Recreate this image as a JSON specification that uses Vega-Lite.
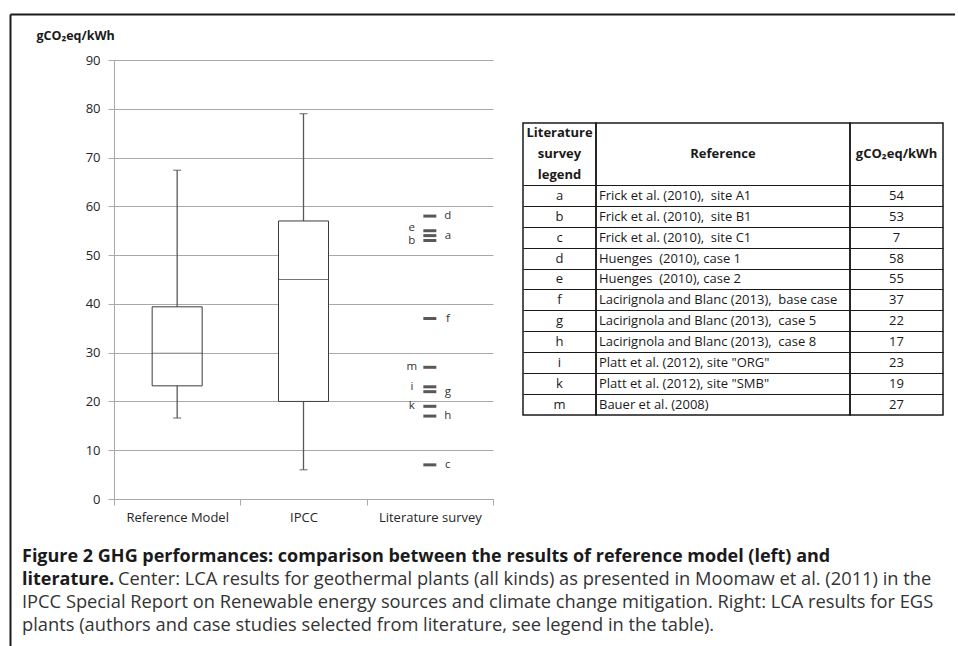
{
  "$schema": "https://vega.github.io/schema/vega-lite/v6.json",
  "padding": {"left": 10, "top": 8, "right": 0, "bottom": 0},
  "background": "white",
  "config": {
    "view": {"stroke": null},
    "font": "Open Sans",
    "text": {"font": "Open Sans"},
    "axis": {"labelFont": "Open Sans", "titleFont": "Open Sans"}
  },
  "datasets": {
    "blank": [{}],
    "boxes": [
      {"group": "Reference Model", "min": 16.6, "q1": 23.2, "median": 29.9, "q3": 39.4, "max": 67.4},
      {"group": "IPCC", "min": 6, "q1": 20, "median": 45, "q3": 57, "max": 79}
    ],
    "lit": [
      {"letter": "a", "reference": "Frick et al. (2010), \u00a0site A1", "value": 54},
      {"letter": "b", "reference": "Frick et al. (2010), \u00a0site B1", "value": 53},
      {"letter": "c", "reference": "Frick et al. (2010), \u00a0site C1", "value": 7},
      {"letter": "d", "reference": "Huenges \u00a0(2010), case 1", "value": 58},
      {"letter": "e", "reference": "Huenges \u00a0(2010), case 2", "value": 55},
      {"letter": "f", "reference": "Lacirignola and Blanc (2013), \u00a0base case", "value": 37},
      {"letter": "g", "reference": "Lacirignola and Blanc (2013), \u00a0case 5", "value": 22},
      {"letter": "h", "reference": "Lacirignola and Blanc (2013), \u00a0case 8", "value": 17},
      {"letter": "i", "reference": "Platt et al. (2012), site \"ORG\"", "value": 23},
      {"letter": "k", "reference": "Platt et al. (2012), site \"SMB\"", "value": 19},
      {"letter": "m", "reference": "Bauer et al. (2008)", "value": 27}
    ],
    "caption": [
      {"line": 1, "role": "title", "text": "Figure 2 GHG performances: comparison between the results of reference model (left) and"},
      {"line": 2, "role": "title", "text": "literature."},
      {"line": 2, "role": "body", "text": "Center: LCA results for geothermal plants (all kinds) as presented in Moomaw et al. (2011) in the"},
      {"line": 3, "role": "body", "text": "IPCC Special Report on Renewable energy sources and climate change mitigation. Right: LCA results for EGS"},
      {"line": 4, "role": "body", "text": "plants (authors and case studies selected from literature, see legend in the table)."}
    ]
  },
  "columns": 2,
  "bounds": "flush",
  "spacing": {"row": 45, "column": 103},
  "concat": [
    {
      "width": 1,
      "height": 1,
      "data": {"name": "blank"},
      "mark": {"type": "text"},
      "encoding": {
        "x": {"datum": 0, "type": "quantitative", "scale": {"domain": [0, 1], "range": [0, 945]}, "axis": {"orient": "top", "domain": true, "domainColor": "#1a1a1a", "domainWidth": 2, "ticks": false, "labels": false, "grid": false, "title": null}},
        "y": {"datum": 0, "type": "quantitative", "scale": {"domain": [0, 1], "range": [0, 632]}, "axis": {"orient": "left", "domain": true, "domainColor": "#1a1a1a", "domainWidth": 2, "ticks": false, "labels": false, "grid": false, "title": null}},
        "text": {"value": ""}
      }
    },
    {
      "width": 1,
      "height": 1,
      "data": {"name": "blank"},
      "mark": {"type": "text"},
      "encoding": {"text": {"value": ""}}
    },
    {
      "width": 1,
      "height": 1,
      "data": {"name": "blank"},
      "mark": {"type": "text"},
      "encoding": {"text": {"value": ""}}
    },
    {
      "spacing": 21,
      "vconcat": [
        {
          "spacing": 28,
          "hconcat": [
            {
              "width": 379,
              "height": 439,
              "layer": [
                {
                  "data": {"name": "boxes"},
                  "mark": {"type": "rule", "color": "#595959", "strokeWidth": 1.3},
                  "encoding": {
                    "x": {
                      "field": "group",
                      "type": "nominal",
                      "scale": {"domain": ["Reference Model", "IPCC", "Literature survey"], "paddingInner": 0, "paddingOuter": 0},
                      "axis": {
                        "title": null,
                        "tickBand": "extent",
                        "grid": false,
                        "labelAngle": 0,
                        "domainColor": "#a9a9a9",
                        "tickColor": "#a9a9a9",
                        "tickSize": 6,
                        "labelFontSize": 13,
                        "labelColor": "#262626",
                        "labelPadding": 6
                      }
                    },
                    "y": {
                      "field": "min",
                      "type": "quantitative",
                      "scale": {"domain": [0, 90], "nice": false},
                      "axis": {
                        "values": [0, 10, 20, 30, 40, 50, 60, 70, 80, 90],
                        "grid": true,
                        "gridColor": "#a9a9a9",
                        "gridWidth": 1,
                        "domainColor": "#a9a9a9",
                        "tickColor": "#a9a9a9",
                        "tickSize": 6,
                        "labelFontSize": 13,
                        "labelColor": "#262626",
                        "labelPadding": 8,
                        "title": "gCO₂eq/kWh",
                        "titleAngle": 0,
                        "titleAlign": "left",
                        "titleBaseline": "middle",
                        "titleX": -78,
                        "titleY": -25,
                        "titleFontSize": 12.5,
                        "titleFontWeight": "bold",
                        "titleColor": "#1a1a1a"
                      }
                    },
                    "y2": {"field": "max"}
                  }
                },
                {
                  "data": {"name": "boxes"},
                  "mark": {"type": "bar", "width": 50, "fill": "white", "stroke": "#3c3c3c", "strokeWidth": 1},
                  "encoding": {
                    "x": {"field": "group", "type": "nominal"},
                    "y": {"field": "q1", "type": "quantitative"},
                    "y2": {"field": "q3"}
                  }
                },
                {
                  "data": {"name": "boxes"},
                  "mark": {"type": "tick", "size": 50, "thickness": 1, "color": "#3c3c3c"},
                  "encoding": {
                    "x": {"field": "group", "type": "nominal"},
                    "y": {"field": "median", "type": "quantitative"}
                  }
                },
                {
                  "data": {"name": "boxes"},
                  "mark": {"type": "tick", "size": 8, "thickness": 1.3, "color": "#595959"},
                  "encoding": {
                    "x": {"field": "group", "type": "nominal"},
                    "y": {"field": "min", "type": "quantitative"}
                  }
                },
                {
                  "data": {"name": "boxes"},
                  "mark": {"type": "tick", "size": 8, "thickness": 1.3, "color": "#595959"},
                  "encoding": {
                    "x": {"field": "group", "type": "nominal"},
                    "y": {"field": "max", "type": "quantitative"}
                  }
                },
                {
                  "data": {"name": "lit"},
                  "mark": {"type": "tick", "size": 13, "thickness": 3, "color": "#111111"},
                  "encoding": {
                    "x": {"datum": "Literature survey", "type": "nominal"},
                    "y": {"field": "value", "type": "quantitative"}
                  }
                },
                {
                  "data": {"name": "lit"},
                  "transform": [{"filter": {"field": "letter", "oneOf": ["a", "c", "d", "f", "g", "h"]}}],
                  "mark": {"type": "text", "dx": 18, "fontSize": 11.5, "fill": "#333333", "baseline": "middle"},
                  "encoding": {
                    "x": {"datum": "Literature survey", "type": "nominal"},
                    "y": {"field": "value", "type": "quantitative"},
                    "text": {"field": "letter"}
                  }
                },
                {
                  "data": {"name": "lit"},
                  "transform": [{"filter": {"field": "letter", "oneOf": ["i", "k", "m"]}}],
                  "mark": {"type": "text", "dx": -18, "fontSize": 11.5, "fill": "#333333", "baseline": "middle"},
                  "encoding": {
                    "x": {"datum": "Literature survey", "type": "nominal"},
                    "y": {"field": "value", "type": "quantitative"},
                    "text": {"field": "letter"}
                  }
                },
                {
                  "data": {"name": "lit"},
                  "transform": [{"filter": {"field": "letter", "equal": "e"}}],
                  "mark": {"type": "text", "dx": -18, "dy": -3, "fontSize": 11.5, "fill": "#333333", "baseline": "middle"},
                  "encoding": {
                    "x": {"datum": "Literature survey", "type": "nominal"},
                    "y": {"field": "value", "type": "quantitative"},
                    "text": {"field": "letter"}
                  }
                },
                {
                  "data": {"name": "lit"},
                  "transform": [{"filter": {"field": "letter", "equal": "b"}}],
                  "mark": {"type": "text", "dx": -18, "dy": 1, "fontSize": 11.5, "fill": "#333333", "baseline": "middle"},
                  "encoding": {
                    "x": {"datum": "Literature survey", "type": "nominal"},
                    "y": {"field": "value", "type": "quantitative"},
                    "text": {"field": "letter"}
                  }
                }
              ]
            },
            {
              "spacing": 0,
              "vconcat": [
                {
                  "width": 1,
                  "height": 62,
                  "data": {"name": "blank"},
                  "mark": {"type": "text"},
                  "encoding": {"text": {"value": ""}}
                },
                {
                  "spacing": 0,
                  "bounds": "flush",
                  "hconcat": [
                    {
                      "width": 73,
                      "height": 292,
                      "view": {"stroke": "#1a1a1a", "strokeWidth": 1.5},
                      "layer": [
                        {
                          "data": {"name": "blank"},
                          "mark": {"type": "text", "fontWeight": "bold", "fontSize": 13, "lineHeight": 20.86, "baseline": "middle", "color": "#1a1a1a"},
                          "encoding": {
                            "y": {"datum": "h1", "type": "nominal", "scale": {"type": "band", "domain": ["h1", "h2", "h3", "a", "b", "c", "d", "e", "f", "g", "h", "i", "k", "m"], "paddingInner": 0, "paddingOuter": 0}, "axis": {"values": ["a", "b", "c", "d", "e", "f", "g", "h", "i", "k", "m"], "bandPosition": 0, "grid": true, "gridColor": "#1a1a1a", "gridWidth": 1.2, "labels": false, "ticks": false, "domain": false, "title": null}},
                            "text": {"value": ["Literature", "survey", "legend"]}
                          }
                        },
                        {
                          "data": {"name": "lit"},
                          "mark": {"type": "text", "fontSize": 13, "color": "#1a1a1a"},
                          "encoding": {
                            "y": {"field": "letter", "type": "nominal", "axis": {"values": ["a", "b", "c", "d", "e", "f", "g", "h", "i", "k", "m"], "bandPosition": 0, "grid": true, "gridColor": "#1a1a1a", "gridWidth": 1.2, "labels": false, "ticks": false, "domain": false, "title": null}},
                            "text": {"field": "letter"}
                          }
                        }
                      ]
                    },
                    {
                      "width": 254,
                      "height": 292,
                      "view": {"stroke": "#1a1a1a", "strokeWidth": 1.5},
                      "layer": [
                        {
                          "data": {"name": "blank"},
                          "mark": {"type": "text", "fontWeight": "bold", "fontSize": 13, "color": "#1a1a1a"},
                          "encoding": {
                            "x": {"datum": 0.5, "type": "quantitative", "scale": {"domain": [0, 1]}, "axis": null},
                            "y": {"datum": "h2", "type": "nominal", "scale": {"type": "band", "domain": ["h1", "h2", "h3", "a", "b", "c", "d", "e", "f", "g", "h", "i", "k", "m"], "paddingInner": 0, "paddingOuter": 0}, "axis": {"values": ["a", "b", "c", "d", "e", "f", "g", "h", "i", "k", "m"], "bandPosition": 0, "grid": true, "gridColor": "#1a1a1a", "gridWidth": 1.2, "labels": false, "ticks": false, "domain": false, "title": null}},
                            "text": {"value": "Reference"}
                          }
                        },
                        {
                          "data": {"name": "lit"},
                          "mark": {"type": "text", "fontSize": 13, "color": "#1a1a1a", "align": "left", "dx": 3},
                          "encoding": {
                            "x": {"datum": 0, "type": "quantitative"},
                            "y": {"field": "letter", "type": "nominal", "axis": {"values": ["a", "b", "c", "d", "e", "f", "g", "h", "i", "k", "m"], "bandPosition": 0, "grid": true, "gridColor": "#1a1a1a", "gridWidth": 1.2, "labels": false, "ticks": false, "domain": false, "title": null}},
                            "text": {"field": "reference"}
                          }
                        }
                      ]
                    },
                    {
                      "width": 93,
                      "height": 292,
                      "view": {"stroke": "#1a1a1a", "strokeWidth": 1.5},
                      "layer": [
                        {
                          "data": {"name": "blank"},
                          "mark": {"type": "text", "fontWeight": "bold", "fontSize": 13, "color": "#1a1a1a"},
                          "encoding": {
                            "y": {"datum": "h2", "type": "nominal", "scale": {"type": "band", "domain": ["h1", "h2", "h3", "a", "b", "c", "d", "e", "f", "g", "h", "i", "k", "m"], "paddingInner": 0, "paddingOuter": 0}, "axis": {"values": ["a", "b", "c", "d", "e", "f", "g", "h", "i", "k", "m"], "bandPosition": 0, "grid": true, "gridColor": "#1a1a1a", "gridWidth": 1.2, "labels": false, "ticks": false, "domain": false, "title": null}},
                            "text": {"value": "gCO₂eq/kWh"}
                          }
                        },
                        {
                          "data": {"name": "lit"},
                          "mark": {"type": "text", "fontSize": 13, "color": "#1a1a1a"},
                          "encoding": {
                            "y": {"field": "letter", "type": "nominal", "axis": {"values": ["a", "b", "c", "d", "e", "f", "g", "h", "i", "k", "m"], "bandPosition": 0, "grid": true, "gridColor": "#1a1a1a", "gridWidth": 1.2, "labels": false, "ticks": false, "domain": false, "title": null}},
                            "text": {"field": "value"}
                          }
                        }
                      ]
                    }
                  ]
                }
              ]
            }
          ]
        },
        {
          "width": 830,
          "height": 92,
          "data": {"name": "caption"},
          "encoding": {
            "x": {"datum": 0, "type": "quantitative", "scale": {"domain": [0, 1]}, "axis": null},
            "y": {"field": "line", "type": "ordinal", "scale": {"type": "point", "padding": 0.5, "domain": [1, 2, 3, 4]}, "axis": null},
            "text": {"field": "text"}
          },
          "layer": [
            {
              "transform": [{"filter": "datum.role === 'title'"}],
              "mark": {"type": "text", "align": "left", "dx": -92, "fontSize": 18, "fontWeight": "bold", "color": "#1a1a1a"}
            },
            {
              "transform": [{"filter": "datum.role === 'body' && datum.line === 2"}],
              "mark": {"type": "text", "align": "left", "dx": 4, "fontSize": 18.3, "color": "#333333"}
            },
            {
              "transform": [{"filter": "datum.role === 'body' && datum.line > 2"}],
              "mark": {"type": "text", "align": "left", "dx": -92, "fontSize": 18.3, "color": "#333333"}
            }
          ]
        }
      ]
    }
  ]
}
